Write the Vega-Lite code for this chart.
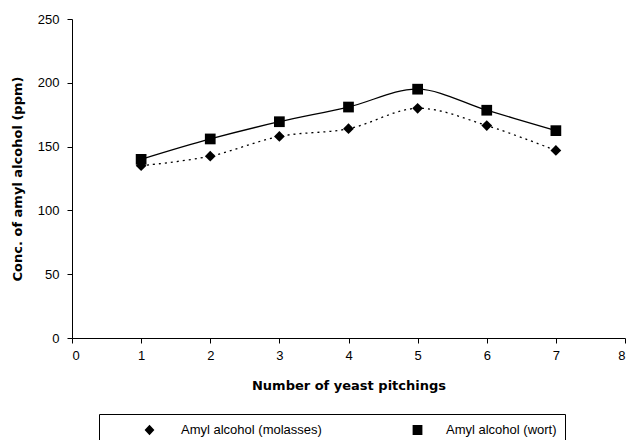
{
  "$schema": "https://vega.github.io/schema/vega-lite/v6.json",
  "width": 553,
  "height": 319,
  "autosize": "none",
  "padding": {"left": 72, "top": 19, "right": 4, "bottom": 102},
  "background": "white",
  "config": {
    "view": {"stroke": null},
    "font": "Liberation Sans",
    "axis": {
      "domainColor": "black",
      "tickColor": "black",
      "labelColor": "black",
      "titleColor": "black",
      "grid": false,
      "labelFont": "Liberation Sans",
      "labelFontSize": 13,
      "titleFont": "DejaVu Sans",
      "titleFontSize": 13,
      "titleFontWeight": "bold",
      "tickSize": 5
    }
  },
  "data": {
    "values": [
      {"pitchings": 1, "conc": 135, "series": "Amyl alcohol (molasses)"},
      {"pitchings": 2, "conc": 142.5, "series": "Amyl alcohol (molasses)"},
      {"pitchings": 3, "conc": 158, "series": "Amyl alcohol (molasses)"},
      {"pitchings": 4, "conc": 164, "series": "Amyl alcohol (molasses)"},
      {"pitchings": 5, "conc": 180, "series": "Amyl alcohol (molasses)"},
      {"pitchings": 6, "conc": 166.5, "series": "Amyl alcohol (molasses)"},
      {"pitchings": 7, "conc": 147, "series": "Amyl alcohol (molasses)"},
      {"pitchings": 1, "conc": 140, "series": "Amyl alcohol (wort)"},
      {"pitchings": 2, "conc": 156, "series": "Amyl alcohol (wort)"},
      {"pitchings": 3, "conc": 169.5, "series": "Amyl alcohol (wort)"},
      {"pitchings": 4, "conc": 181, "series": "Amyl alcohol (wort)"},
      {"pitchings": 5, "conc": 195, "series": "Amyl alcohol (wort)"},
      {"pitchings": 6, "conc": 178.5, "series": "Amyl alcohol (wort)"},
      {"pitchings": 7, "conc": 162.5, "series": "Amyl alcohol (wort)"}
    ]
  },
  "encoding": {
    "x": {
      "field": "pitchings",
      "type": "quantitative",
      "scale": {"domain": [0, 8], "nice": false},
      "axis": {"values": [0,1,2,3,4,5,6,7,8], "title": "Number of yeast pitchings", "labelPadding": 6, "titlePadding": 17}
    },
    "y": {
      "field": "conc",
      "type": "quantitative",
      "scale": {"domain": [0, 250], "nice": false},
      "axis": {"values": [0,50,100,150,200,250], "title": "Conc. of amyl alcohol (ppm)", "labelPadding": 8, "titlePadding": 13}
    }
  },
  "layer": [
    {
      "transform": [{"filter": "datum.series == 'Amyl alcohol (molasses)'"}],
      "mark": {"type": "line", "interpolate": "catmull-rom", "color": "black", "strokeWidth": 1.3, "strokeDash": [2, 4]},
      "encoding": {}
    },
    {
      "transform": [{"filter": "datum.series == 'Amyl alcohol (wort)'"}],
      "mark": {"type": "line", "interpolate": "catmull-rom", "color": "black", "strokeWidth": 1.3},
      "encoding": {}
    },
    {
      "mark": {"type": "point", "filled": true, "color": "black", "opacity": 1, "size": 115},
      "encoding": {
        "shape": {
          "field": "series",
          "type": "nominal",
          "scale": {"domain": ["Amyl alcohol (molasses)", "Amyl alcohol (wort)"], "range": ["diamond", "square"]},
          "legend": null
        }
      }
    },
    {
      "mark": {"type": "point", "filled": true, "fill": "black", "stroke": "black", "strokeWidth": 1, "opacity": 0, "size": 115},
      "encoding": {
        "shape": {
          "field": "series",
          "type": "nominal",
          "scale": {
            "domain": ["Amyl alcohol (molasses)", "Amyl alcohol (wort)"],
            "range": [
              "M-0.51,0H-0.42M-0.32,0H-0.23M-0.13,0H-0.04M0.06,0L0.2,-0.15L0.34,0L0.2,0.15ZM0.44,0H0.53M0.63,0H0.72M0.82,0H0.91",
              "M-0.43,0H1M0.146,-0.14H0.426V0.14H0.146Z"
            ]
          },
          "legend": {
            "title": null,
            "orient": "none",
            "legendX": 27,
            "legendY": 395,
            "direction": "horizontal",
            "columns": 2,
            "columnPadding": 50,
            "padding": 8,
            "strokeColor": "black",
            "fillColor": "white",
            "clipHeight": 16,
            "symbolSize": 4900,
            "symbolOffset": 0,
            "symbolOpacity": 1,
            "labelOffset": 3,
            "labelFont": "Liberation Sans",
            "labelFontSize": 13,
            "labelColor": "black",
            "symbolFillColor": "black",
            "symbolStrokeColor": "black",
            "symbolStrokeWidth": 1,
            "encode": {
              "symbols": {
                "opacity": {"value": 1},
                "stroke": {"value": "black"},
                "strokeWidth": {"value": 1}
              }
            }
          }
        }
      }
    }
  ],
  "resolve": {"scale": {"shape": "independent"}, "legend": {"shape": "independent"}}
}
